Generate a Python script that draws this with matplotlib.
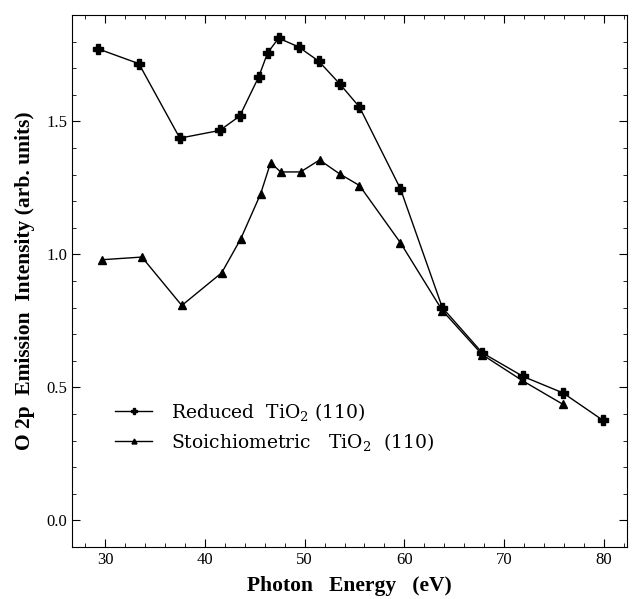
import matplotlib
matplotlib.use("Agg")
import matplotlib.pyplot as plt
from matplotlib.ticker import MultipleLocator

# Reduced TiO2 (110)
red_x = [29.3, 33.4, 37.5, 41.5, 43.5, 45.4, 46.3, 47.4, 49.4, 51.4, 53.5,
         55.5, 59.6, 63.8, 67.8, 71.9, 75.9, 79.9]
red_y = [1.773, 1.717, 1.437, 1.466, 1.52, 1.667, 1.758, 1.813, 1.78, 1.727,
         1.642, 1.554, 1.247, 0.80, 0.63, 0.541, 0.479, 0.376]

# Stoichiometric TiO2 (110)
sto_x = [29.7, 33.7, 37.7, 41.7, 43.6, 45.6, 46.6, 47.6, 49.6, 51.5, 53.5,
         55.5, 59.6, 63.8, 67.8, 71.8, 75.9]
sto_y = [0.98, 0.99, 0.808, 0.931, 1.058, 1.228, 1.345, 1.31, 1.31, 1.355,
         1.303, 1.259, 1.044, 0.789, 0.623, 0.526, 0.436]

plt.rcParams["font.family"] = ["Liberation Serif", "DejaVu Serif"]
plt.rcParams["mathtext.fontset"] = "dejavuserif"

fig = plt.figure(figsize=(6.32, 5.99), dpi=100)
ax = fig.add_axes([72 / 632, 1 - 547 / 599, (627 - 72) / 632, (547 - 15) / 599])

ax.plot(red_x, red_y, "-", color="k", lw=1.0, marker="P", ms=7,
        mfc="k", mec="k", label=r"Reduced  TiO$_2$ (110)")
ax.plot(sto_x, sto_y, "-", color="k", lw=1.0, marker="^", ms=5.5,
        mfc="k", mec="k", label=r"Stoichiometric   TiO$_2$  (110)")

ax.set_xlim(26.7, 82.3)
ax.set_ylim(-0.1, 1.9)
ax.xaxis.set_major_locator(MultipleLocator(10))
ax.xaxis.set_minor_locator(MultipleLocator(2))
ax.yaxis.set_major_locator(MultipleLocator(0.5))
ax.yaxis.set_minor_locator(MultipleLocator(0.1))
ax.yaxis.set_major_formatter(matplotlib.ticker.FormatStrFormatter("%.1f"))
ax.tick_params(which="both", direction="in", top=True, right=True,
               labelsize=12)
ax.tick_params(which="major", length=6)
ax.tick_params(which="minor", length=3)

ax.set_xlabel("Photon   Energy   (eV)", fontsize=15.5, fontweight="bold",
              labelpad=6)
ax.set_ylabel("O 2p  Emission  Intensity (arb. units)", fontsize=15.5,
              fontweight="bold", labelpad=8)

ax.legend(loc="upper left", bbox_to_anchor=(0.047, 0.307), frameon=False,
          prop={"family": "DejaVu Serif", "size": 13.5},
          handlelength=2.0, handletextpad=1.0, labelspacing=0.45,
          markerscale=0.65)

fig.savefig("out.png", dpi=100)
